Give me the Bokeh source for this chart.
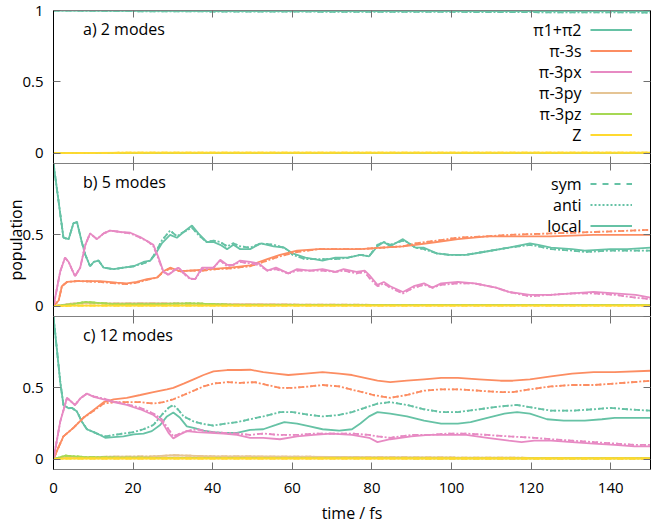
from bokeh.plotting import figure
from bokeh.models import (Range1d, LinearAxis, FixedTicker, CustomJSTickFormatter,
                          Label, Legend, LegendItem)
from bokeh.layouts import column
from bokeh.embed import file_html
from bokeh.resources import INLINE
from bokeh.core.properties import value

FONT = "Open Sans"
FS = "16px"
TICK_FS = "15px"

STATES = ["π1+π2", "π-3s", "π-3px", "π-3py", "π-3pz", "Z"]
COLORS = ["#66c2a5", "#fc8d62", "#e78ac3", "#e5c494", "#a6d854", "#ffd92f"]
X_TICKS = [0, 20, 40, 60, 80, 100, 120, 140]
Y_TICKS = [0, 0.5, 1]
Y_TICKS_LOWER = [0, 0.5]
PANEL_LABELS = ["a) 2 modes", "b) 5 modes", "c) 12 modes"]
STYLE_NAMES = ["sym", "anti", "local"]

# ---------------- panel a: 2 modes ----------------
t_a = [0, 20, 40, 60, 80, 100, 120, 150]
a_teal_local = [1.0, 0.997, 0.996, 0.996, 0.995, 0.995, 0.995, 0.995]
a_teal_deloc = [1.0, 0.995, 0.993, 0.992, 0.99, 0.99, 0.988, 0.986]
a_orange = [0, 0.002, 0.002, 0.002, 0.002, 0.002, 0.002, 0.002]
a_pink = [0, 0.002, 0.002, 0.002, 0.002, 0.002, 0.002, 0.002]
a_tan = [0, 0.003, 0.003, 0.003, 0.003, 0.003, 0.003, 0.003]
a_green = [0, 0.003, 0.003, 0.003, 0.003, 0.003, 0.003, 0.003]
a_yellow = [0, 0.004, 0.004, 0.004, 0.004, 0.004, 0.004, 0.004]

# ---------------- panel b: 5 modes ----------------
b_teal_t = [0, 2.5, 3.8, 5.0, 5.9, 7.1, 8.0, 9.2, 10.1, 11.3, 12.6, 15.1, 17.6, 20.1, 22.6,
            24.3, 25.5, 27.2, 29.3, 31.0, 32.7, 34.8, 36.4, 38.5, 40.2, 41.9, 43.6, 45.2, 46.9,
            49.4, 52.1, 55.3, 58.0, 60.1, 63.3, 67.6, 70.8, 74.0, 77.1, 79.3, 81.4, 83.0, 84.6,
            87.8, 88.8, 91.0, 93.1, 96.3, 99.5, 103.7, 108.0, 114.4, 119.7, 121.8, 125.0, 130.3,
            133.5, 139.9, 144.2, 150]
b_teal_local = [1.0, 0.48, 0.47, 0.58, 0.59, 0.45, 0.36, 0.28, 0.31, 0.32, 0.27, 0.26, 0.27,
                0.28, 0.31, 0.32, 0.36, 0.44, 0.50, 0.48, 0.52, 0.565, 0.51, 0.45, 0.45, 0.43,
                0.40, 0.43, 0.40, 0.40, 0.44, 0.42, 0.41, 0.37, 0.34, 0.32, 0.34, 0.34, 0.36,
                0.35, 0.42, 0.45, 0.42, 0.47, 0.45, 0.41, 0.41, 0.37, 0.36, 0.36, 0.38, 0.41,
                0.44, 0.43, 0.41, 0.40, 0.39, 0.40, 0.40, 0.41]
b_teal_deloc = [1.0, 0.48, 0.47, 0.58, 0.59, 0.45, 0.36, 0.28, 0.31, 0.32, 0.27, 0.26, 0.27,
                0.28, 0.30, 0.32, 0.37, 0.46, 0.53, 0.49, 0.52, 0.55, 0.50, 0.45, 0.46, 0.45,
                0.42, 0.44, 0.42, 0.41, 0.44, 0.43, 0.41, 0.36, 0.33, 0.33, 0.33, 0.34, 0.36,
                0.35, 0.43, 0.45, 0.43, 0.46, 0.45, 0.41, 0.40, 0.37, 0.36, 0.36, 0.38, 0.41,
                0.43, 0.42, 0.40, 0.39, 0.38, 0.39, 0.39, 0.39]

b_orange_t = [0, 1.3, 2.1, 3.4, 5.9, 11.7, 15.9, 18.4, 20.9, 23.5, 26.0, 27.6, 29.3, 31.8,
              34.3, 37.7, 41.0, 44.4, 49.4, 51.6, 53.7, 56.9, 61.2, 66.5, 71.8, 77.1, 82.5,
              87.8, 91.0, 96.3, 101.6, 109.0, 114.4, 125.0, 135.7, 150]
b_orange_local = [0, 0.04, 0.14, 0.17, 0.176, 0.176, 0.165, 0.16, 0.17, 0.19, 0.20, 0.245,
                  0.27, 0.245, 0.25, 0.256, 0.263, 0.27, 0.286, 0.31, 0.33, 0.36, 0.39, 0.40,
                  0.40, 0.40, 0.41, 0.42, 0.43, 0.45, 0.47, 0.49, 0.49, 0.49, 0.50, 0.50]
b_orange_deloc = [0, 0.04, 0.14, 0.17, 0.176, 0.17, 0.16, 0.155, 0.165, 0.185, 0.20, 0.24,
                  0.265, 0.245, 0.25, 0.25, 0.26, 0.265, 0.28, 0.30, 0.32, 0.35, 0.38, 0.40,
                  0.40, 0.40, 0.41, 0.42, 0.44, 0.46, 0.48, 0.49, 0.50, 0.51, 0.52, 0.535]

b_pink_t = [0, 1.7, 2.9, 3.8, 5.4, 6.7, 8.0, 9.2, 10.9, 12.6, 14.2, 16.8, 19.3, 21.8, 23.9,
            25.1, 26.4, 27.6, 28.9, 30.1, 31.4, 32.7, 34.3, 35.6, 37.3, 38.5, 40.2, 41.9, 43.6,
            45.2, 46.9, 49.4, 51.6, 53.7, 55.9, 59.0, 61.2, 64.4, 67.6, 70.8, 72.9, 76.1, 78.2,
            79.3, 81.4, 83.0, 84.6, 87.8, 90.5, 93.1, 95.2, 97.4, 101.6, 105.8, 111.2, 114.4,
            119.7, 125.0, 130.3, 135.7, 141.0, 146.3, 150]
b_pink_local = [0, 0.245, 0.34, 0.31, 0.21, 0.27, 0.43, 0.51, 0.47, 0.51, 0.53, 0.52, 0.515,
                0.485, 0.45, 0.43, 0.34, 0.245, 0.22, 0.245, 0.27, 0.235, 0.195, 0.19, 0.27,
                0.27, 0.27, 0.325, 0.29, 0.29, 0.32, 0.31, 0.30, 0.25, 0.27, 0.23, 0.26, 0.25,
                0.26, 0.24, 0.26, 0.24, 0.25, 0.22, 0.15, 0.17, 0.14, 0.10, 0.14, 0.16, 0.13,
                0.16, 0.17, 0.16, 0.13, 0.10, 0.08, 0.08, 0.09, 0.10, 0.09, 0.08, 0.06]
b_pink_deloc = [0, 0.245, 0.34, 0.31, 0.21, 0.27, 0.43, 0.51, 0.47, 0.51, 0.53, 0.52, 0.51,
                0.48, 0.45, 0.42, 0.33, 0.24, 0.22, 0.25, 0.27, 0.23, 0.19, 0.19, 0.26,
                0.26, 0.27, 0.32, 0.28, 0.29, 0.31, 0.30, 0.29, 0.25, 0.26, 0.23, 0.25, 0.25,
                0.25, 0.24, 0.25, 0.23, 0.24, 0.20, 0.14, 0.16, 0.13, 0.09, 0.13, 0.15, 0.13,
                0.15, 0.16, 0.16, 0.13, 0.10, 0.07, 0.08, 0.09, 0.09, 0.08, 0.06, 0.05]

b_small_t = [0, 5, 8, 15, 25, 35, 45, 60, 80, 100, 120, 150]
b_tan = [0, 0.02, 0.02, 0.02, 0.022, 0.018, 0.015, 0.012, 0.01, 0.01, 0.01, 0.01]
b_green = [0, 0.015, 0.03, 0.015, 0.015, 0.02, 0.01, 0.01, 0.008, 0.008, 0.008, 0.008]
b_yellow = [0, 0.004, 0.004, 0.004, 0.004, 0.004, 0.004, 0.004, 0.004, 0.004, 0.004, 0.004]

# ---------------- panel c: 12 modes ----------------
c_teal_t = [0, 1.7, 2.5, 3.8, 4.6, 5.9, 7.1, 8.4, 10.1, 11.7, 13.0, 15.1, 17.6, 20.1, 22.6,
            24.7, 26.8, 28.5, 30.1, 31.8, 33.5, 35.2, 37.7, 40.2, 42.7, 46.1, 49.4, 52.7, 55.9,
            58.0, 61.2, 64.4, 67.6, 71.8, 75.0, 77.1, 79.3, 81.4, 84.6, 88.8, 93.1, 97.4, 101.6,
            104.8, 109.0, 113.3, 116.5, 119.7, 124.0, 128.2, 133.5, 137.8, 141.0, 150]
c_teal_local = [1.0, 0.54, 0.38, 0.357, 0.36, 0.334, 0.265, 0.21, 0.19, 0.17, 0.15, 0.155,
                0.16, 0.174, 0.18, 0.197, 0.24, 0.30, 0.327, 0.29, 0.23, 0.22, 0.20, 0.19,
                0.185, 0.185, 0.206, 0.21, 0.24, 0.26, 0.25, 0.23, 0.21, 0.20, 0.21, 0.25,
                0.30, 0.33, 0.32, 0.30, 0.27, 0.25, 0.25, 0.26, 0.29, 0.32, 0.33, 0.32, 0.28,
                0.27, 0.27, 0.28, 0.29, 0.29]
c_teal_deloc_t = [0, 1.7, 2.5, 3.8, 4.6, 5.9, 7.1, 8.4, 10.1, 11.7, 13.0, 15.1, 17.6, 20.1,
                  22.6, 25.1, 27.2, 28.9, 30.1, 31.4, 32.7, 35.2, 37.7, 40.2, 42.7, 46.1, 49.4,
                  52.7, 56.9, 60.1, 64.4, 67.6, 71.8, 75.0, 78.2, 81.4, 84.6, 88.8, 93.1, 97.4,
                  101.6, 106.9, 112.3, 116.5, 120.8, 125.0, 130.3, 135.7, 139.9, 144.2, 150]
c_teal_deloc = [1.0, 0.54, 0.38, 0.357, 0.36, 0.334, 0.265, 0.21, 0.19, 0.17, 0.16, 0.17, 0.18,
                0.19, 0.21, 0.24, 0.31, 0.36, 0.38, 0.345, 0.30, 0.265, 0.247, 0.236, 0.247,
                0.26, 0.28, 0.30, 0.33, 0.33, 0.31, 0.30, 0.31, 0.33, 0.36, 0.39, 0.40, 0.38,
                0.35, 0.33, 0.33, 0.35, 0.37, 0.38, 0.36, 0.34, 0.34, 0.35, 0.36, 0.35, 0.34]

c_orange_t = [0, 1.2, 2.5, 5.0, 7.5, 10.1, 12.6, 15.1, 18.4, 21.8, 25.1, 28.5, 30.1, 32.7, 35.2,
              37.7, 40.2, 43.6, 46.9, 49.4, 52.7, 55.9, 59.0, 63.3, 67.6, 71.8, 75.0, 78.2, 81.4,
              84.6, 88.8, 93.1, 97.4, 101.6, 106.9, 112.3, 115.4, 119.7, 125.0, 130.3, 135.7,
              141.0, 150]
c_orange_local = [0, 0.08, 0.16, 0.22, 0.29, 0.345, 0.40, 0.42, 0.43, 0.45, 0.47, 0.49, 0.50,
                  0.53, 0.56, 0.59, 0.615, 0.625, 0.625, 0.627, 0.61, 0.60, 0.59, 0.60, 0.61,
                  0.60, 0.59, 0.57, 0.55, 0.54, 0.55, 0.56, 0.57, 0.57, 0.56, 0.55, 0.55, 0.56,
                  0.58, 0.60, 0.61, 0.61, 0.62]
c_orange_deloc_t = [0, 1.2, 2.5, 5.0, 7.5, 10.1, 12.6, 15.1, 18.4, 21.8, 25.1, 27.6, 30.1, 32.7,
                    35.2, 37.7, 40.2, 43.6, 46.9, 50.5, 53.7, 56.9, 60.1, 64.4, 67.6, 71.8, 76.1,
                    80.3, 84.6, 88.8, 93.1, 97.4, 101.6, 106.9, 112.3, 115.4, 119.7, 125.0,
                    130.3, 135.7, 141.0, 150]
c_orange_deloc = [0, 0.08, 0.16, 0.22, 0.29, 0.34, 0.39, 0.40, 0.40, 0.40, 0.39, 0.40, 0.42,
                  0.45, 0.48, 0.51, 0.53, 0.54, 0.535, 0.54, 0.52, 0.50, 0.50, 0.51, 0.52, 0.51,
                  0.48, 0.45, 0.43, 0.45, 0.48, 0.49, 0.49, 0.48, 0.47, 0.47, 0.49, 0.51, 0.52,
                  0.52, 0.53, 0.55]

c_pink_t = [0, 1.7, 3.4, 4.2, 5.4, 6.7, 8.4, 10.1, 12.6, 15.1, 18.4, 21.8, 25.1, 27.2, 28.9,
            30.1, 31.8, 33.5, 36.0, 39.4, 42.7, 46.1, 49.4, 52.7, 56.9, 61.2, 65.4, 69.7, 75.0,
            79.3, 81.4, 84.6, 89.9, 94.2, 99.5, 103.7, 109.0, 114.4, 117.6, 120.8, 125.0, 130.3,
            135.7, 141.0, 146.0, 150]
c_pink_local = [0, 0.265, 0.43, 0.41, 0.38, 0.425, 0.46, 0.437, 0.42, 0.40, 0.38, 0.35, 0.31,
                0.265, 0.185, 0.146, 0.174, 0.197, 0.19, 0.185, 0.18, 0.17, 0.15, 0.15, 0.14,
                0.16, 0.17, 0.18, 0.17, 0.15, 0.12, 0.14, 0.16, 0.17, 0.17, 0.17, 0.15, 0.13,
                0.12, 0.13, 0.13, 0.12, 0.11, 0.10, 0.09, 0.09]
c_pink_deloc = [0, 0.265, 0.43, 0.41, 0.38, 0.425, 0.46, 0.44, 0.425, 0.405, 0.385, 0.36, 0.32,
                0.28, 0.21, 0.16, 0.18, 0.197, 0.21, 0.19, 0.185, 0.18, 0.17, 0.18, 0.17, 0.17,
                0.18, 0.18, 0.18, 0.17, 0.16, 0.15, 0.17, 0.17, 0.18, 0.18, 0.17, 0.16, 0.155,
                0.15, 0.14, 0.13, 0.12, 0.11, 0.10, 0.10]

c_small_t = [0, 3, 8, 15, 25, 30, 40, 60, 80, 100, 120, 150]
c_tan = [0, 0.015, 0.015, 0.018, 0.02, 0.028, 0.02, 0.018, 0.015, 0.012, 0.01, 0.01]
c_green = [0, 0.025, 0.015, 0.012, 0.01, 0.01, 0.01, 0.008, 0.008, 0.006, 0.006, 0.006]
c_yellow = [0, 0.005, 0.005, 0.005, 0.005, 0.005, 0.005, 0.005, 0.005, 0.005, 0.005, 0.005]

# series per panel: (state index, t_local, v_local, t_deloc, v_deloc)
PANELS = [
    [(0, t_a, a_teal_local, t_a, a_teal_deloc), (1, t_a, a_orange, t_a, a_orange),
     (2, t_a, a_pink, t_a, a_pink), (3, t_a, a_tan, t_a, a_tan),
     (4, t_a, a_green, t_a, a_green), (5, t_a, a_yellow, t_a, a_yellow)],
    [(0, b_teal_t, b_teal_local, b_teal_t, b_teal_deloc),
     (1, b_orange_t, b_orange_local, b_orange_t, b_orange_deloc),
     (2, b_pink_t, b_pink_local, b_pink_t, b_pink_deloc),
     (3, b_small_t, b_tan, b_small_t, b_tan), (4, b_small_t, b_green, b_small_t, b_green),
     (5, b_small_t, b_yellow, b_small_t, b_yellow)],
    [(0, c_teal_t, c_teal_local, c_teal_deloc_t, c_teal_deloc),
     (1, c_orange_t, c_orange_local, c_orange_deloc_t, c_orange_deloc),
     (2, c_pink_t, c_pink_local, c_pink_t, c_pink_deloc),
     (3, c_small_t, c_tan, c_small_t, c_tan), (4, c_small_t, c_green, c_small_t, c_green),
     (5, c_small_t, c_yellow, c_small_t, c_yellow)],
]

FRAME_W, FRAME_H = 597, 153
LW = 1.8
DASH_SYM = "6 6"
DASH_ANTI = "2 2"
TICK_COLOR = "#707070"
H_BORDER = "#808080"
ROW = 21

x_range = Range1d(0, 150)


def add_axis(p, side, ticks, with_labels, line_color, axis_label=None, label_standoff=0):
    ax = LinearAxis(ticker=FixedTicker(ticks=ticks))
    ax.major_tick_in = 7
    ax.major_tick_out = 0
    ax.minor_tick_in = 0
    ax.minor_tick_out = 0
    ax.axis_line_color = line_color
    ax.axis_line_width = 1
    ax.major_tick_line_color = TICK_COLOR
    ax.major_tick_line_width = 1
    if with_labels:
        ax.formatter = CustomJSTickFormatter(code="return tick.toString()")
        ax.major_label_text_font = FONT
        ax.major_label_text_font_size = TICK_FS
        ax.major_label_text_color = "#000000"
        ax.major_label_standoff = 10 if side == "left" else 13
    else:
        ax.formatter = CustomJSTickFormatter(code="return ''")
        ax.major_label_text_font_size = "0px"
        ax.major_label_text_color = None
        ax.major_label_standoff = 0
    if axis_label:
        ax.axis_label = axis_label
        ax.axis_label_text_font = FONT
        ax.axis_label_text_font_size = FS
        ax.axis_label_text_font_style = "normal"
        ax.axis_label_text_color = "#000000"
        ax.axis_label_standoff = label_standoff
    p.add_layout(ax, side)
    return ax


def legend_for(p, labels, renderers, first_row):
    # line samples on the right, their texts to the left of them
    n = len(labels)
    box_top = first_row - ROW / 2
    leg = Legend(items=[LegendItem(label=value(""), renderers=[r]) for r in renderers],
                 location=(537, FRAME_H - box_top - n * ROW), orientation="vertical")
    leg.glyph_width = 42
    leg.glyph_height = ROW
    leg.label_height = ROW
    leg.label_width = 0
    leg.spacing = 0
    leg.padding = 0
    leg.margin = 0
    leg.label_standoff = 0
    leg.label_text_font_size = "10px"
    leg.background_fill_alpha = 0
    leg.border_line_color = None
    p.add_layout(leg)
    for i, lb in enumerate(labels):
        p.add_layout(Label(x=528, y=FRAME_H - (first_row + i * ROW), x_units="screen",
                           y_units="screen", text=lb, text_font=FONT, text_font_size=FS,
                           text_color="#000000", text_align="right", text_baseline="middle"))


figs = []
for k, series in enumerate(PANELS):
    top = 10 if k == 0 else 0
    p = figure(frame_width=FRAME_W, frame_height=FRAME_H, x_range=x_range,
               y_range=Range1d(-0.072, 1.0), output_backend="svg", toolbar_location=None,
               x_axis_location=None, y_axis_location=None,
               min_border_left=53, min_border_right=6, min_border_top=top, min_border_bottom=0)
    p.grid.visible = False
    p.outline_line_color = None
    p.background_fill_color = "white"
    p.border_fill_color = "white"

    add_axis(p, "left", Y_TICKS if k == 0 else Y_TICKS_LOWER, True, "#000000",
             axis_label="population" if k == 1 else None, label_standoff=-8)
    add_axis(p, "right", Y_TICKS, False, "#000000")
    add_axis(p, "above", X_TICKS, False, H_BORDER)
    if k == 2:
        add_axis(p, "below", X_TICKS, True, H_BORDER, axis_label="time / fs", label_standoff=6)
    else:
        add_axis(p, "below", X_TICKS, False, H_BORDER)

    local_r = {}
    sym_r = {}
    anti_r = {}
    for (si, tl, vl, td, vd) in series:
        col = COLORS[si]
        sym_r[si] = p.line(td, vd, line_color=col, line_width=LW, line_dash=DASH_SYM)
        anti_r[si] = p.line(td, vd, line_color=col, line_width=LW, line_dash=DASH_ANTI)
        local_r[si] = p.line(tl, vl, line_color=col, line_width=LW)

    p.add_layout(Label(x=29.5, y=FRAME_H - 18, x_units="screen", y_units="screen",
                       text=PANEL_LABELS[k], text_font=FONT, text_font_size=FS,
                       text_color="#000000", text_baseline="middle", text_align="left"))

    if k == 0:
        legend_for(p, STATES, [local_r[i] for i in range(6)], 19)
    if k == 1:
        legend_for(p, STYLE_NAMES, [sym_r[0], anti_r[0], local_r[0]], 20.5)
    figs.append(p)

layout = column(*figs, spacing=0)
open("out.html", "w").write(file_html(layout, INLINE))
